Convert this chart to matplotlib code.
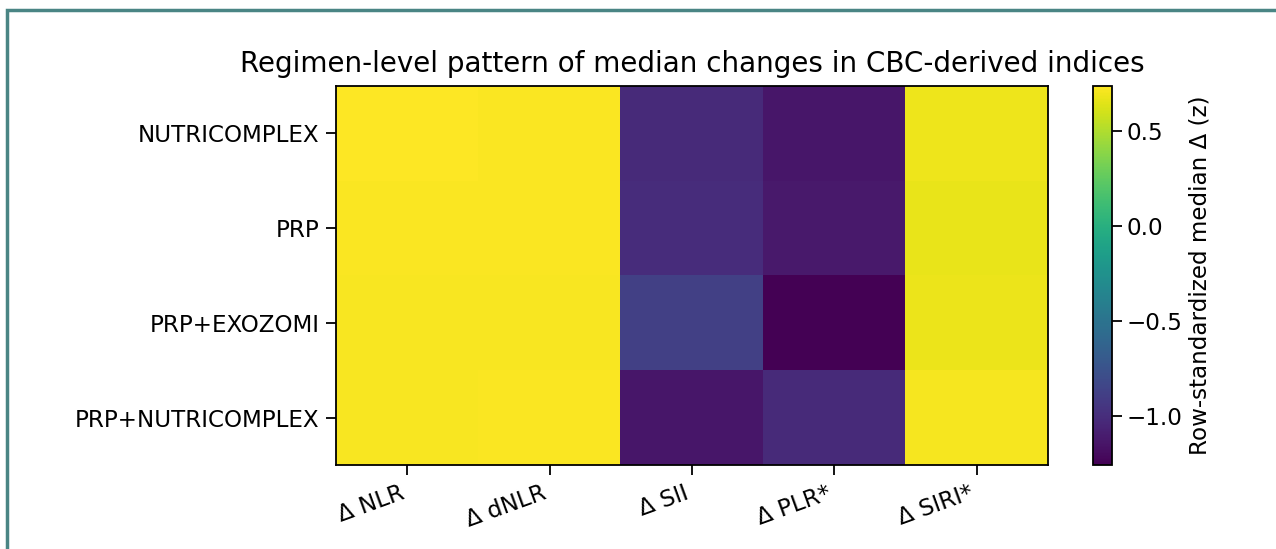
import numpy as np
import matplotlib.pyplot as plt
from matplotlib.patches import Rectangle
from matplotlib.ticker import MultipleLocator

regimens = ["NUTRICOMPLEX", "PRP", "PRP+EXOZOMI", "PRP+NUTRICOMPLEX"]
indices = ["Δ NLR", "Δ dNLR", "Δ SII", "Δ PLR*", "Δ SIRI*"]

# row-standardized median change per regimen (z)
nutricomplex = [0.74, 0.73, -1.02, -1.14, 0.69]
prp = [0.73, 0.73, -1.01, -1.12, 0.67]
prp_exozomi = [0.72, 0.72, -0.88, -1.26, 0.68]
prp_nutricomplex = [0.72, 0.73, -1.14, -1.02, 0.71]

z = np.array([nutricomplex, prp, prp_exozomi, prp_nutricomplex])

fs = 16.6
fig = plt.figure(figsize=(12.76, 5.49), dpi=100)
ax = fig.add_axes([336 / 1276, 1 - 465 / 549, 712 / 1276, 379 / 549])
cax = fig.add_axes([1093 / 1276, 1 - 465 / 549, 19 / 1276, 379 / 549])

im = ax.imshow(z, cmap="viridis", aspect="auto")
ax.set_xticks(range(len(indices)))
ax.set_xticklabels(indices, rotation=20, ha="right", fontsize=fs)
ax.set_yticks(range(len(regimens)))
ax.set_yticklabels(regimens, fontsize=fs)
ax.tick_params(length=7, width=1.3, pad=5)
for s in ax.spines.values():
    s.set_linewidth(1.3)
ax.set_title("Regimen-level pattern of median changes in CBC-derived indices",
             fontsize=20, pad=10)

cb = fig.colorbar(im, cax=cax)
cb.ax.yaxis.set_major_locator(MultipleLocator(0.5))
cb.set_label("Row-standardized median Δ (z)", fontsize=fs)
cb.ax.tick_params(labelsize=fs, length=7, width=1.3)
cb.outline.set_linewidth(1.3)

# page frame
fig.patches.append(Rectangle((7 / 1276, -0.1), 1.2, 1 - 10 / 549 + 0.1,
                             transform=fig.transFigure, fill=False,
                             edgecolor="#4a8584", linewidth=2.5))

fig.savefig("out.png", dpi=100)
